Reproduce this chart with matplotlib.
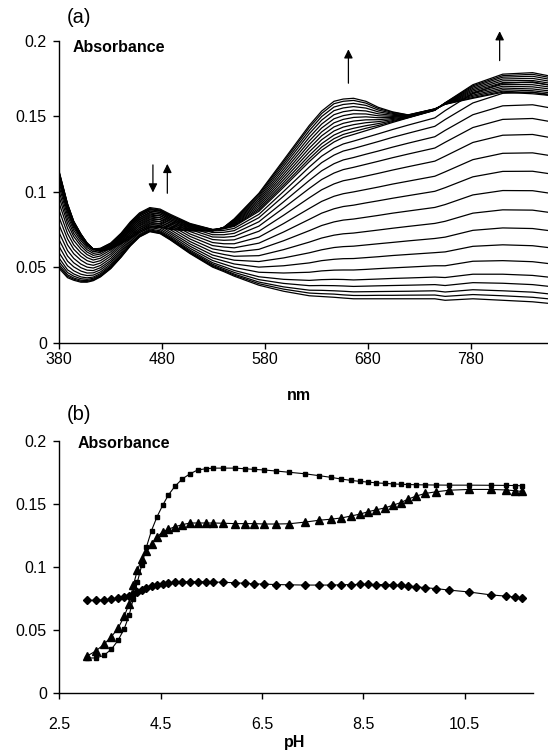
import matplotlib
matplotlib.use("Agg")
import matplotlib.pyplot as plt

plt.rcParams['font.family'] = ['Liberation Sans', 'DejaVu Sans']

# ---------------- Panel (a): spectra ----------------
wavelength_nm = [380, 384, 388, 394, 401, 407, 413, 420, 430, 440, 449, 458,
                 468, 478, 488, 507, 529, 540, 550, 574, 598, 623, 635, 647,
                 656, 666, 678, 690, 704, 719, 745, 755, 782, 811, 840, 855]

spectra = [
    [.0490, .0460, .0430, .0413, .0400, .0400, .0410, .0435, .0490, .0565, .0640, .0700, .0735, .0722, .0680, .0590, .0500, .0470, .0440, .0380, .0340, .0310, .0305, .0300, .0295, .0290, .0290, .0290, .0290, .0290, .0290, .0280, .0290, .0280, .0270, .0260],
    [.0502, .0470, .0439, .0420, .0406, .0405, .0414, .0439, .0493, .0568, .0643, .0703, .0738, .0725, .0683, .0594, .0505, .0476, .0447, .0390, .0354, .0328, .0324, .0321, .0316, .0312, .0312, .0313, .0313, .0314, .0315, .0306, .0318, .0310, .0300, .0290],
    [.0515, .0482, .0449, .0428, .0413, .0411, .0419, .0443, .0497, .0572, .0647, .0707, .0742, .0729, .0687, .0598, .0511, .0482, .0454, .0401, .0369, .0347, .0346, .0343, .0340, .0336, .0337, .0338, .0339, .0340, .0343, .0335, .0350, .0343, .0334, .0323],
    [.0534, .0499, .0464, .0440, .0423, .0419, .0426, .0449, .0503, .0577, .0652, .0712, .0747, .0734, .0693, .0605, .0519, .0491, .0465, .0417, .0392, .0377, .0378, .0377, .0375, .0372, .0374, .0376, .0378, .0380, .0384, .0378, .0397, .0393, .0384, .0373],
    [.0558, .0520, .0482, .0455, .0435, .0429, .0434, .0457, .0510, .0583, .0658, .0718, .0753, .0741, .0700, .0613, .0529, .0503, .0478, .0436, .0419, .0412, .0417, .0419, .0418, .0415, .0418, .0421, .0425, .0428, .0434, .0431, .0453, .0453, .0445, .0434],
    [.0593, .0551, .0509, .0476, .0453, .0444, .0447, .0468, .0520, .0593, .0668, .0728, .0763, .0751, .0710, .0625, .0544, .0520, .0498, .0466, .0461, .0466, .0475, .0480, .0481, .0481, .0485, .0490, .0495, .0500, .0509, .0509, .0539, .0543, .0536, .0524],
    [.0635, .0587, .0540, .0502, .0474, .0461, .0462, .0482, .0532, .0604, .0679, .0739, .0774, .0762, .0722, .0639, .0561, .0540, .0521, .0500, .0509, .0528, .0543, .0552, .0556, .0557, .0563, .0569, .0577, .0584, .0596, .0601, .0638, .0648, .0642, .0630],
    [.0679, .0626, .0574, .0529, .0496, .0480, .0477, .0496, .0544, .0616, .0691, .0751, .0786, .0774, .0734, .0654, .0580, .0561, .0546, .0537, .0561, .0595, .0615, .0630, .0636, .0639, .0647, .0655, .0664, .0674, .0690, .0699, .0744, .0760, .0756, .0743],
    [.0726, .0668, .0610, .0558, .0520, .0500, .0494, .0511, .0558, .0629, .0704, .0764, .0799, .0787, .0748, .0670, .0600, .0584, .0572, .0576, .0616, .0666, .0693, .0712, .0721, .0726, .0736, .0746, .0758, .0770, .0790, .0804, .0858, .0880, .0878, .0864],
    [.0776, .0712, .0648, .0589, .0546, .0521, .0512, .0527, .0573, .0643, .0718, .0778, .0813, .0801, .0763, .0687, .0621, .0608, .0600, .0618, .0675, .0742, .0776, .0800, .0812, .0819, .0831, .0843, .0858, .0872, .0896, .0915, .0979, .1008, .1007, .0992],
    [.0826, .0756, .0687, .0619, .0571, .0543, .0530, .0543, .0587, .0656, .0731, .0791, .0826, .0815, .0777, .0704, .0643, .0633, .0628, .0659, .0733, .0817, .0858, .0887, .0902, .0911, .0926, .0940, .0957, .0974, .1003, .1027, .1099, .1135, .1136, .1121],
    [.0874, .0798, .0723, .0648, .0595, .0563, .0547, .0559, .0601, .0669, .0744, .0804, .0839, .0828, .0791, .0720, .0663, .0655, .0655, .0699, .0789, .0889, .0936, .0970, .0987, .0999, .1015, .1031, .1051, .1070, .1103, .1132, .1213, .1255, .1258, .1242],
    [.0921, .0840, .0759, .0677, .0619, .0583, .0563, .0574, .0614, .0682, .0757, .0817, .0852, .0841, .0804, .0736, .0683, .0678, .0681, .0738, .0844, .0960, .1013, .1052, .1073, .1086, .1104, .1122, .1144, .1166, .1203, .1236, .1327, .1375, .1380, .1362],
    [.0962, .0876, .0790, .0703, .0640, .0600, .0578, .0587, .0626, .0693, .0768, .0828, .0863, .0852, .0816, .0750, .0700, .0698, .0704, .0772, .0892, .1022, .1081, .1124, .1147, .1162, .1182, .1202, .1226, .1250, .1290, .1328, .1426, .1480, .1486, .1468],
    [.0997, .0907, .0817, .0724, .0658, .0615, .0591, .0598, .0636, .0703, .0778, .0838, .0873, .0862, .0826, .0762, .0715, .0715, .0724, .0801, .0933, .1075, .1139, .1186, .1211, .1227, .1249, .1270, .1296, .1322, .1365, .1407, .1511, .1570, .1577, .1559],
    [.1030, .0936, .0842, .0744, .0675, .0629, .0602, .0609, .0646, .0711, .0786, .0846, .0881, .0871, .0836, .0773, .0729, .0731, .0742, .0828, .0971, .1124, .1193, .1243, .1270, .1287, .1310, .1333, .1361, .1388, .1434, .1479, .1589, .1653, .1661, .1642],
    [.1056, .0959, .0862, .0761, .0688, .0640, .0612, .0617, .0653, .0719, .0794, .0854, .0889, .0879, .0843, .0782, .0740, .0744, .0757, .0850, .1002, .1164, .1236, .1289, .1317, .1336, .1360, .1384, .1413, .1442, .1490, .1538, .1653, .1720, .1729, .1710],
    [.1080, .0980, .0880, .0775, .0700, .0650, .0620, .0625, .0660, .0725, .0800, .0860, .0895, .0885, .0850, .0790, .0750, .0755, .0770, .0870, .1030, .1200, .1275, .1330, .1360, .1380, .1405, .1430, .1460, .1490, .1540, .1590, .1710, .1780, .1790, .1770],
    [.1084, .0984, .0883, .0777, .0702, .0651, .0620, .0623, .0657, .0719, .0791, .0850, .0884, .0875, .0842, .0786, .0749, .0756, .0774, .0880, .1044, .1219, .1296, .1352, .1380, .1399, .1421, .1440, .1466, .1492, .1541, .1589, .1703, .1770, .1779, .1760],
    [.1089, .0988, .0887, .0780, .0703, .0652, .0620, .0622, .0653, .0713, .0781, .0838, .0872, .0864, .0833, .0782, .0748, .0757, .0779, .0890, .1061, .1241, .1319, .1376, .1403, .1421, .1438, .1452, .1472, .1493, .1542, .1588, .1695, .1760, .1766, .1748],
    [.1094, .0992, .0891, .0783, .0705, .0653, .0620, .0620, .0649, .0706, .0770, .0825, .0859, .0852, .0823, .0777, .0747, .0758, .0784, .0902, .1079, .1265, .1345, .1403, .1429, .1445, .1458, .1465, .1479, .1495, .1543, .1587, .1686, .1748, .1752, .1735],
    [.1099, .0997, .0895, .0786, .0707, .0654, .0620, .0618, .0645, .0699, .0759, .0812, .0845, .0840, .0813, .0772, .0746, .0759, .0789, .0914, .1097, .1289, .1371, .1430, .1454, .1469, .1477, .1478, .1486, .1497, .1544, .1586, .1677, .1736, .1738, .1722],
    [.1104, .1001, .0899, .0789, .0709, .0655, .0620, .0616, .0641, .0692, .0748, .0799, .0832, .0828, .0803, .0767, .0745, .0760, .0794, .0926, .1115, .1313, .1397, .1457, .1480, .1493, .1497, .1491, .1493, .1499, .1545, .1585, .1668, .1724, .1724, .1709],
    [.1109, .1006, .0903, .0792, .0711, .0656, .0620, .0614, .0637, .0685, .0737, .0786, .0818, .0816, .0793, .0762, .0744, .0761, .0799, .0938, .1133, .1337, .1423, .1484, .1505, .1517, .1516, .1504, .1500, .1501, .1546, .1584, .1659, .1712, .1710, .1696],
    [.1114, .1010, .0907, .0795, .0713, .0657, .0620, .0612, .0633, .0678, .0726, .0773, .0805, .0803, .0783, .0757, .0743, .0762, .0804, .0950, .1151, .1361, .1449, .1511, .1531, .1541, .1536, .1517, .1507, .1503, .1547, .1583, .1650, .1700, .1696, .1683],
    [.1119, .1015, .0911, .0798, .0715, .0658, .0620, .0610, .0629, .0671, .0715, .0760, .0791, .0791, .0773, .0752, .0742, .0763, .0809, .0962, .1169, .1385, .1475, .1538, .1556, .1565, .1555, .1530, .1514, .1505, .1548, .1582, .1641, .1688, .1682, .1670],
    [.1123, .1019, .0914, .0801, .0717, .0659, .0620, .0608, .0626, .0665, .0705, .0748, .0779, .0780, .0764, .0747, .0741, .0764, .0813, .0973, .1185, .1406, .1499, .1562, .1579, .1586, .1573, .1542, .1520, .1507, .1549, .1581, .1633, .1677, .1670, .1658],
    [.1127, .1022, .0918, .0803, .0719, .0659, .0620, .0606, .0622, .0659, .0697, .0738, .0768, .0770, .0756, .0743, .0741, .0764, .0817, .0983, .1199, .1426, .1519, .1584, .1600, .1606, .1588, .1552, .1526, .1509, .1549, .1581, .1625, .1667, .1658, .1648],
    [.1130, .1025, .0920, .0805, .0720, .0660, .0620, .0605, .0620, .0655, .0690, .0730, .0760, .0763, .0750, .0740, .0740, .0765, .0820, .0990, .1210, .1440, .1535, .1600, .1615, .1620, .1600, .1560, .1530, .1510, .1550, .1580, .1620, .1660, .1650, .1640],
]

nm_ticks = [380, 480, 580, 680, 780]
abs_ticks = [0, 0.05, 0.1, 0.15, 0.2]
abs_tick_labels = ["0", "0.05", "0.1", "0.15", "0.2"]

# arrows: (wavelength, tail absorbance, tip absorbance)
arrows_a = [(471, 0.1178, 0.0995), (485, 0.0990, 0.1185),
            (661, 0.1720, 0.1945), (808, 0.1870, 0.2065)]

# ---------------- Panel (b): titration ----------------
pH = [3.05, 3.22, 3.38, 3.53, 3.66, 3.78, 3.88, 3.96, 4.04, 4.13, 4.22, 4.32,
      4.43, 4.54, 4.65, 4.78, 4.93, 5.08, 5.23, 5.39, 5.54, 5.74, 5.97, 6.16,
      6.34, 6.55, 6.78, 7.04, 7.35, 7.63, 7.86, 8.07, 8.25, 8.43, 8.60, 8.76,
      8.93, 9.08, 9.24, 9.39, 9.54, 9.72, 9.93, 10.20, 10.59, 11.02, 11.32,
      11.49, 11.63]

abs_squares = [0.028, 0.028, 0.030, 0.035, 0.042, 0.051, 0.062, 0.075, 0.088,
               0.102, 0.116, 0.129, 0.140, 0.149, 0.157, 0.164, 0.170, 0.174,
               0.177, 0.178, 0.1785, 0.1785, 0.1785, 0.178, 0.1775, 0.177,
               0.1762, 0.1752, 0.174, 0.1725, 0.1712, 0.1698, 0.1688, 0.168,
               0.1674, 0.1668, 0.1664, 0.166, 0.1657, 0.1655, 0.1653, 0.1652,
               0.1651, 0.165, 0.165, 0.1649, 0.1648, 0.1647, 0.1645]

abs_triangles = [0.0296, 0.0335, 0.0388, 0.045, 0.0515, 0.061, 0.071, 0.0855,
                 0.0974, 0.1067, 0.113, 0.118, 0.124, 0.128, 0.130, 0.132,
                 0.1337, 0.135, 0.135, 0.135, 0.135, 0.1348, 0.1345, 0.1345,
                 0.1345, 0.1342, 0.1342, 0.1344, 0.1357, 0.1372, 0.138, 0.139,
                 0.1405, 0.142, 0.144, 0.1455, 0.147, 0.149, 0.1512, 0.154,
                 0.1563, 0.1584, 0.1597, 0.161, 0.1616, 0.1616, 0.1612, 0.1606,
                 0.160]

abs_diamonds = [0.0737, 0.0737, 0.0740, 0.0745, 0.0752, 0.0762, 0.0775, 0.0790,
                0.0805, 0.0820, 0.0838, 0.0852, 0.0862, 0.0870, 0.0876, 0.0880,
                0.0884, 0.0885, 0.0885, 0.0884, 0.0882, 0.0880, 0.0876, 0.0872,
                0.0868, 0.0865, 0.0862, 0.0860, 0.0858, 0.0858, 0.0858, 0.0860,
                0.0862, 0.0863, 0.0863, 0.0862, 0.0862, 0.0858, 0.0855, 0.0850,
                0.0845, 0.0837, 0.0830, 0.0818, 0.0803, 0.0780, 0.0770, 0.0763,
                0.0755]

pH_ticks = [2.5, 4.5, 6.5, 8.5, 10.5]
pH_tick_labels = ["2.5", "4.5", "6.5", "8.5", "10.5"]

# ---------------- Figure ----------------
W, H = 548, 753
fig = plt.figure(figsize=(W / 100, H / 100), dpi=100)

def px_axes(left, top, right, bottom):
    return fig.add_axes([left / W, 1 - bottom / H, (right - left) / W, (bottom - top) / H])

def style(ax):
    for s in ("top", "right"):
        ax.spines[s].set_visible(False)
    for s in ("left", "bottom"):
        ax.spines[s].set_linewidth(1.0)
    ax.tick_params(direction="out", length=4, width=1.0, labelsize=11.5)

# Panel (a)
axa = px_axes(59.3, 41, 548, 342.5)
for row in spectra:
    axa.plot(wavelength_nm, row, color="black", lw=0.9, solid_joinstyle="round")
axa.set_xlim(380, 855)
axa.set_ylim(0, 0.2)
axa.set_xticks(nm_ticks)
axa.set_xticklabels([str(t) for t in nm_ticks])
axa.set_yticks(abs_ticks)
axa.set_yticklabels(abs_tick_labels)
style(axa)
axa.tick_params(axis="y", pad=5)
axa.tick_params(axis="x", pad=3)
for x, y0, y1 in arrows_a:
    axa.annotate("", xy=(x, y1), xytext=(x, y0),
                 arrowprops=dict(arrowstyle="-|>", color="black", lw=0.9,
                                 mutation_scale=13, shrinkA=0, shrinkB=0),
                 annotation_clip=False)

fig.text(79 / W, 1 - 17.5 / H, "(a)", fontsize=14.5, ha="center", va="center")
fig.text(73 / W, 1 - 47 / H, "Absorbance", fontsize=11.5, fontweight="bold",
         ha="left", va="center")
fig.text(299 / W, 1 - 395 / H, "nm", fontsize=11.5, fontweight="bold",
         ha="center", va="center")

# Panel (b)
axb = px_axes(59.3, 441, 533, 693.3)
axb.plot(pH, abs_squares, color="black", lw=0.8, marker="s", ms=3.3,
         mfc="black", mec="black")
axb.plot(pH, abs_triangles, color="black", lw=0.8, marker="^", ms=5.2,
         mfc="black", mec="black")
axb.plot(pH, abs_diamonds, color="black", lw=0.8, marker="D", ms=4.0,
         mfc="black", mec="black")
axb.set_xlim(2.5, 11.85)
axb.set_ylim(0, 0.2)
axb.set_xticks(pH_ticks)
axb.set_xticklabels(pH_tick_labels)
axb.set_yticks(abs_ticks)
axb.set_yticklabels(abs_tick_labels)
style(axb)
axb.tick_params(axis="y", pad=5)
axb.tick_params(axis="x", pad=13)
for m in axb.lines:
    m.set_clip_on(False)

fig.text(79 / W, 1 - 415 / H, "(b)", fontsize=14.5, ha="center", va="center")
fig.text(78 / W, 1 - 443 / H, "Absorbance", fontsize=11.5, fontweight="bold",
         ha="left", va="center")
fig.text(295 / W, 1 - 743 / H, "pH", fontsize=11.5, fontweight="bold",
         ha="center", va="center")

fig.savefig("out.png", dpi=100)
